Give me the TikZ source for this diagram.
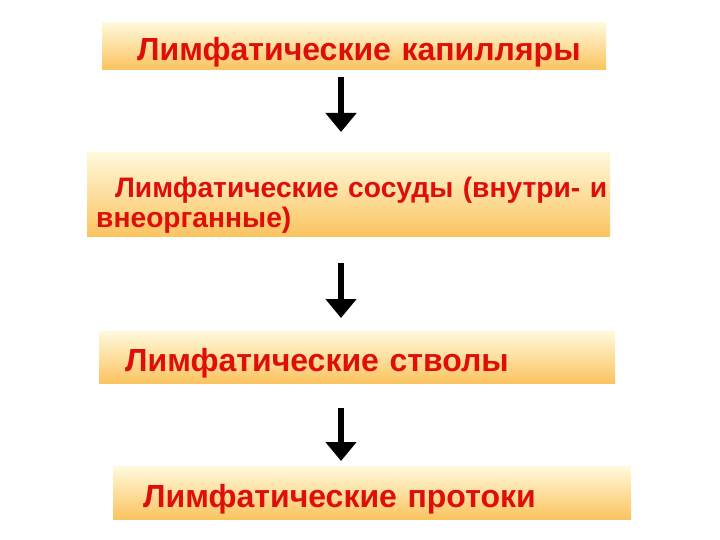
\documentclass[tikz,border=0pt]{standalone}
\usepackage{fontspec}
\setmainfont{Liberation Sans}
\usetikzlibrary{positioning,arrows.meta,calc}

\definecolor{lymred}{RGB}{222,14,10}
\definecolor{boxtop}{RGB}{255,249,220}
\definecolor{boxmid}{RGB}{254,226,158}
\definecolor{boxbot}{RGB}{251,196,96}

\begin{document}
\begin{tikzpicture}[
  x=1pt, y=-1pt,
  stage/.style={anchor=north west, inner ysep=0pt, inner xsep=0pt, align=left,
    top color=boxtop, middle color=boxmid, bottom color=boxbot,
    text height=29pt, text depth=0pt,
    text=lymred, font=\fontsize{32}{34}\selectfont\bfseries},
  flow/.style={line width=6pt, -{Triangle[width=30pt,length=19pt]}}
]
  \useasboundingbox (0,0) rectangle (720,540);

  \node[stage, minimum width=504pt, minimum height=47pt, text width=504pt] (capil) at (102,22)
    {\hspace*{35pt}Лимфатические капилляры};
  \node[stage, minimum width=523pt, minimum height=84pt, text width=523pt,
    text height=20pt, text depth=13pt,
    font=\fontsize{28.2}{30}\selectfont\bfseries] (vessel) at (87,152)
    {\hspace*{28pt}Лимфатические сосуды (внутри- и\\\hspace*{9pt}внеорганные)};
  \node[stage, minimum width=516pt, minimum height=52pt, text width=516pt] (trunk) at (99,331)
    {\hspace*{26pt}Лимфатические стволы};
  \node[stage, minimum width=518pt, minimum height=53pt, text width=518pt] (duct) at (113,466)
    {\hspace*{30pt}Лимфатические протоки};

  \coordinate (axis) at (341,0);

  \draw[flow, shorten <=8pt, shorten >=20pt] (axis |- capil.south) -- (axis |- vessel.north);
  \draw[flow, shorten <=27pt, shorten >=13pt] (axis |- vessel.south) -- (axis |- trunk.north);
  \draw[flow, shorten <=25pt, shorten >=5pt] (axis |- trunk.south) -- (axis |- duct.north);
\end{tikzpicture}
\end{document}
